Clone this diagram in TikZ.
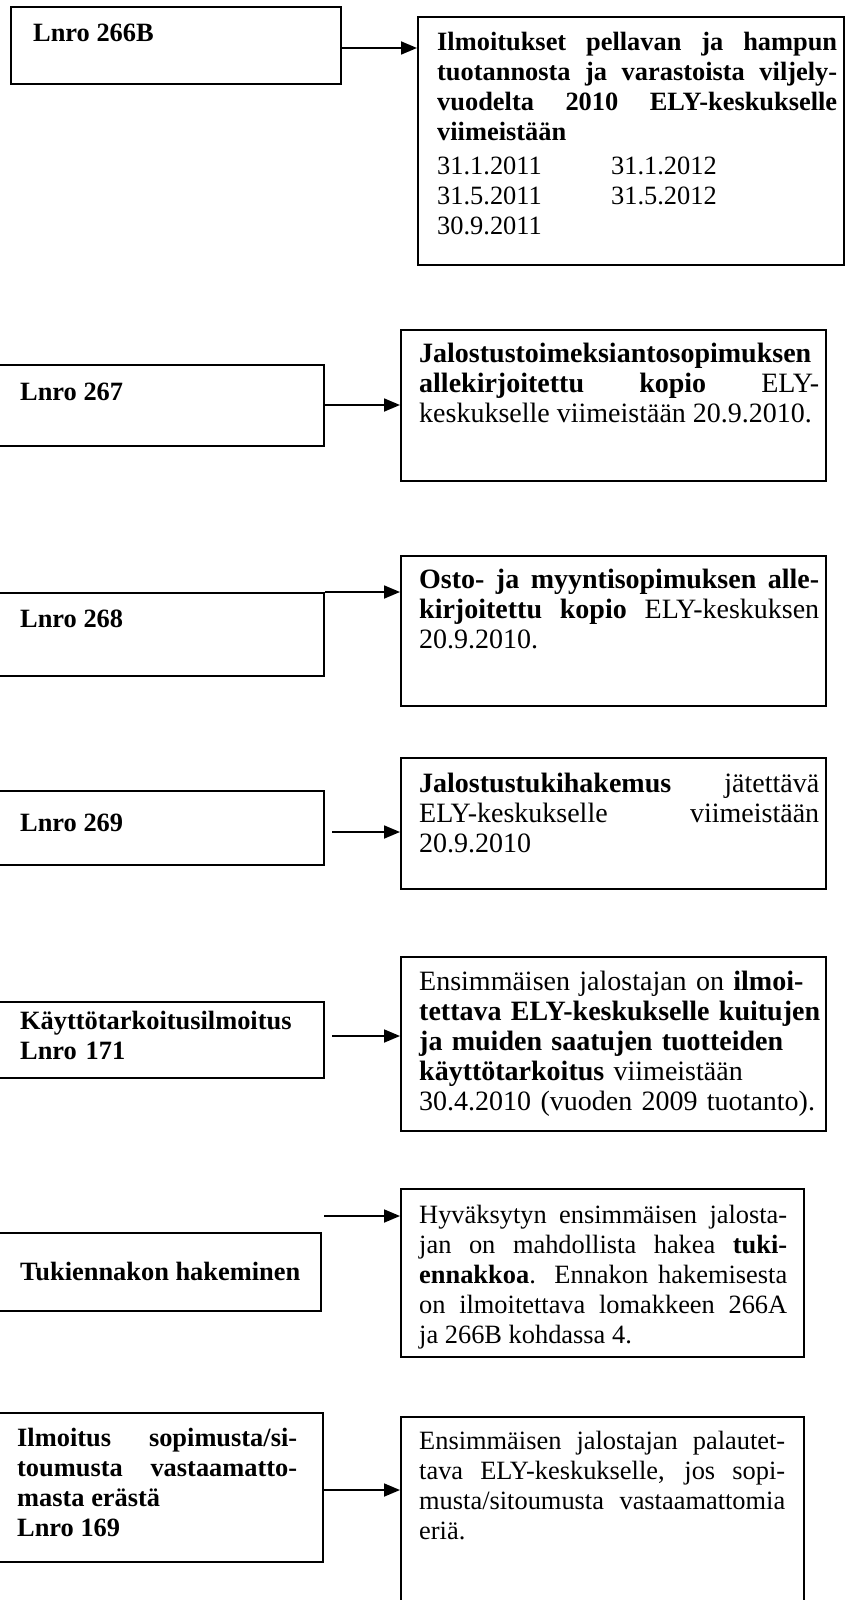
\documentclass[tikz,border=0pt]{standalone}
\usepackage{fontspec}
\setmainfont{Liberation Serif}
\usetikzlibrary{arrows.meta}
\newcommand\parsetup{\hyphenpenalty=10000 \exhyphenpenalty=10000 \tolerance=10000 \hbadness=10000 }
\tikzset{
  box/.style={draw, line width=2pt, inner sep=0pt, anchor=north west},
  txt/.style={anchor=base west, inner sep=0pt, align=justify,
    font={\fontsize{26.4}{30}\selectfont\parsetup}},
  txtbig/.style={txt, font={\fontsize{28}{30}\selectfont\parsetup}},
  txtl/.style={txt, align=left},
  arr/.style={line width=1.8pt, -{Triangle[length=16pt,width=13pt]}},
}
\begin{document}
\begin{tikzpicture}[x=1pt, y=-1pt]
\useasboundingbox (0,0) rectangle (846,1600);
% boxes
\node[box, minimum width=330pt, minimum height=77pt]  (L1) at (10,6) {};
\node[box, minimum width=426pt, minimum height=248pt] (R1) at (417,16) {};
\node[box, minimum width=327pt, minimum height=81pt]  (L2) at (-4,364) {};
\node[box, minimum width=425pt, minimum height=151pt] (R2) at (400,329) {};
\node[box, minimum width=327pt, minimum height=83pt]  (L3) at (-4,592) {};
\node[box, minimum width=425pt, minimum height=150pt] (R3) at (400,555) {};
\node[box, minimum width=327pt, minimum height=74pt]  (L4) at (-4,790) {};
\node[box, minimum width=425pt, minimum height=131pt] (R4) at (400,757) {};
\node[box, minimum width=327pt, minimum height=76pt]  (L5) at (-4,1001) {};
\node[box, minimum width=425pt, minimum height=174pt] (R5) at (400,956) {};
\node[box, minimum width=324pt, minimum height=78pt]  (L6) at (-4,1232) {};
\node[box, minimum width=403pt, minimum height=168pt] (R6) at (400,1188) {};
\node[box, minimum width=326pt, minimum height=149pt] (L7) at (-4,1412) {};
\node[box, minimum width=403pt, minimum height=204pt] (R7) at (400,1416) {};
% texts
\node[txtl] (t1) at (33,42) {\textbf{Lnro 266B}};
\node[txt, text width=400pt] (u1) at (437,51) {\textbf{Ilmoitukset pellavan ja hampun\linebreak tuotannosta ja varastoista viljely-\linebreak vuodelta 2010 ELY-keskukselle\linebreak viimeistään}\\[4pt]
\makebox[174pt][l]{31.1.2011}31.1.2012\\
\makebox[174pt][l]{31.5.2011}31.5.2012\\
30.9.2011};
\node[txtl] (t2) at (20,400) {\textbf{Lnro 267}};
\node[txtbig, text width=400pt] (u2) at (419,362) {\textbf{Jalostustoimeksiantosopimuksen\linebreak allekirjoitettu kopio} ELY-\linebreak keskukselle viimeistään 20.9.2010.};
\node[txtl] (t3) at (20,627) {\textbf{Lnro 268}};
\node[txtbig, text width=400pt] (u3) at (419,588) {\textbf{Osto- ja myyntisopimuksen alle-\linebreak kirjoitettu kopio} ELY-keskuksen\linebreak 20.9.2010.};
\node[txtl] (t4) at (20,831) {\textbf{Lnro 269}};
\node[txtbig, text width=400pt] (u4) at (419,792) {\textbf{Jalostustukihakemus} jätettävä\linebreak ELY-keskukselle viimeistään\linebreak 20.9.2010};
\node[txtl, text width=300pt] (t5) at (20,1029) {\textbf{Käyttötarkoitusilmoitus}\\ \textbf{Lnro 171}};
\node[txtbig, align=left, text width=415pt] (u5) at (419,990) {Ensimmäisen jalostajan on \textbf{ilmoi-}\\
\textbf{tettava ELY-keskukselle kuitujen}\\
\textbf{ja muiden saatujen tuotteiden}\\
\textbf{käyttötarkoitus} viimeistään\\
30.4.2010 (vuoden 2009 tuotanto).};
\node[txtl] (t6) at (20,1280) {\textbf{Tukiennakon hakeminen}};
\node[txt, text width=368pt] (u6) at (419,1223) {Hyväksytyn ensimmäisen jalosta-\linebreak jan on mahdollista hakea \textbf{tuki-\linebreak ennakkoa}. Ennakon hakemisesta\linebreak on ilmoitettava lomakkeen 266A\linebreak ja 266B kohdassa 4.};
\node[txt, text width=280pt] (t7) at (17,1446) {\textbf{Ilmoitus sopimusta/si-\linebreak toumusta vastaamatto-\linebreak masta erästä}\\ \textbf{Lnro 169}};
\node[txt, text width=366pt] (u7) at (419,1449) {Ensimmäisen jalostajan palautet-\linebreak tava ELY-keskukselle, jos sopi-\linebreak musta/sitoumusta vastaamattomia\linebreak eriä.};
% connectors
\coordinate (s4) at ([xshift=7pt]L4.east);
\coordinate (s5) at ([xshift=7pt]L5.east);
\coordinate (s6) at ([xshift=2pt]L6.east);
\draw[arr] (L1.east |- 0,48) -- (R1.west |- 0,48);
\draw[arr] (L2.east |- 0,405) -- (R2.west |- 0,405);
\draw[arr] (L3.north east) -- (R3.west |- L3.north east);
\draw[arr] (s4 |- 0,832) -- (R4.west |- 0,832);
\draw[arr] (s5 |- 0,1036) -- (R5.west |- 0,1036);
\draw[arr] (s6 |- 0,1216) -- (R6.west |- 0,1216);
\draw[arr] (L7.east |- 0,1490) -- (R7.west |- 0,1490);
\end{tikzpicture}
\end{document}
